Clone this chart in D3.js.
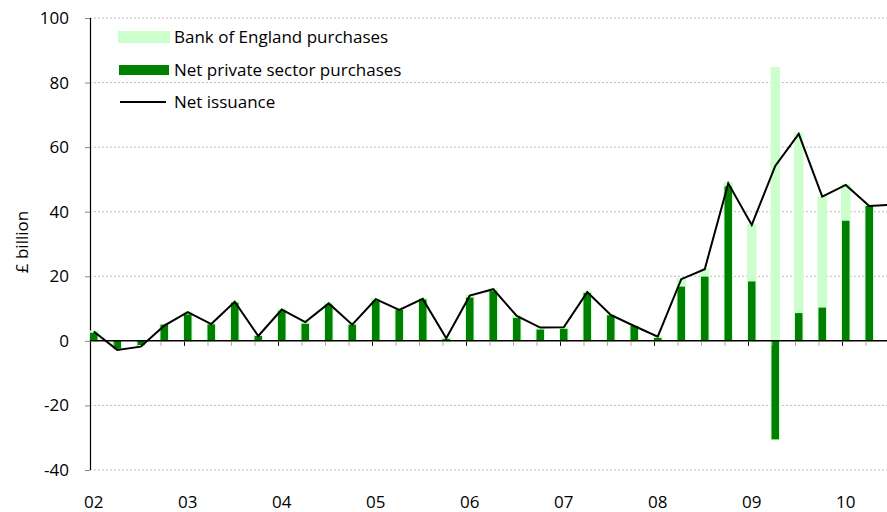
<!DOCTYPE html>
<html><head><meta charset="utf-8">
<script src="https://cdn.jsdelivr.net/npm/d3@7/dist/d3.min.js"></script>
<style>body{margin:0;background:#fff}svg{display:block;font-family:"Open Sans",sans-serif}</style>
</head><body><svg id="c" width="887" height="512"></svg>
<script>
const quarters = ["2002Q1","2002Q2","2002Q3","2002Q4","2003Q1","2003Q2","2003Q3","2003Q4","2004Q1","2004Q2","2004Q3","2004Q4","2005Q1","2005Q2","2005Q3","2005Q4","2006Q1","2006Q2","2006Q3","2006Q4","2007Q1","2007Q2","2007Q3","2007Q4","2008Q1","2008Q2","2008Q3","2008Q4","2009Q1","2009Q2","2009Q3","2009Q4","2010Q1","2010Q2","2010Q3"];
const privatePurchases = [2.5,-2.4,-1.3,5,8.2,5.1,11.8,1.5,9.2,5.3,11.2,5,12.4,9.6,12.8,0.6,13.4,15.4,7.1,3.5,3.7,14.8,7.9,4.6,0.9,16.8,19.9,47.8,18.4,-30.5,8.6,10.3,37.2,41.8,null];
const boePurchases = [0.4,0,0,0,0.6,0.1,0.3,0,0.5,0.5,0.4,0,0.5,0,0.2,0.2,0.6,0.6,0.6,0.6,0.5,0.3,0.1,0,0.4,2.3,2.3,1.1,17.5,84.5,55.6,34.4,11.1,0,null];
const netIssuance = [2.9,-2.8,-1.8,4.7,8.9,5.2,12.1,1.5,9.7,5.8,11.6,5,12.9,9.6,13,0.8,14,16,7.7,4.1,4.2,15.1,8,4.6,1.3,19.1,22.2,48.8,35.9,54.2,64.1,44.7,48.3,41.8,42.2];
const yTicks = [-40,-20,0,20,40,60,80,100];
const yearLabels = ["02","03","04","05","06","07","08","09","10"];
const seriesNames = ["Bank of England purchases","Net private sector purchases","Net issuance"];

const svg = d3.select("#c");
const mLeft = 90, mRight = 887, mTop = 18, mBottom = 470;
const y = d3.scaleLinear().domain([-40,100]).range([mBottom, mTop]);
const step = 23.5, barW = 7.5;
const x = d3.scaleLinear().domain([0, 1]).range([mLeft, mLeft + step]);
const light = "#ccffcc", dark = "#008000";
const fs = 17;

// gridlines
svg.append("g").selectAll("line").data(yTicks.filter(d => d !== 0)).join("line")
  .attr("x1", mLeft).attr("x2", mRight).attr("y1", d => y(d)).attr("y2", d => y(d))
  .attr("stroke", "#bcbcbc").attr("stroke-width", 1).attr("stroke-dasharray", "2,2");

// y axis
const yAxis = d3.axisLeft(y).tickValues(yTicks).tickSize(5).tickPadding(16).tickFormat(d => String(d));
const ga = svg.append("g").attr("transform", `translate(${mLeft},0)`).call(yAxis);
ga.select(".domain").remove();
ga.selectAll(".tick line").attr("stroke", "#888");
ga.selectAll(".tick text").attr("font-size", fs).attr("fill", "#000").attr("font-family", "Open Sans");
svg.append("line").attr("x1", mLeft + 0.5).attr("x2", mLeft + 0.5).attr("y1", mTop).attr("y2", mBottom).attr("stroke", "#000").attr("stroke-width", 1.2);

const idx = d3.range(34);
svg.append("clipPath").attr("id", "pc").append("rect").attr("x", mLeft).attr("y", 0).attr("width", mRight - mLeft).attr("height", 512);
const plot = svg.append("g").attr("clip-path", "url(#pc)");

const topVal = i => { const p = privatePurchases[i], b = boePurchases[i]; return p >= 0 ? p + b : Math.max(b, 0); };
plot.append("g").selectAll("rect").data(idx).join("rect")
  .attr("x", i => x(i))
  .attr("width", barW)
  .attr("y", i => y(topVal(i)))
  .attr("height", i => y(Math.min(privatePurchases[i], 0)) - y(topVal(i)))
  .attr("fill", light).attr("stroke", light).attr("stroke-width", 2);

plot.append("g").selectAll("rect").data(idx).join("rect")
  .attr("x", i => x(i))
  .attr("width", barW)
  .attr("y", i => y(Math.max(0, privatePurchases[i])))
  .attr("height", i => Math.abs(y(privatePurchases[i]) - y(0)))
  .attr("fill", dark);

// x axis baseline & ticks
svg.append("line").attr("x1", mLeft).attr("x2", mRight).attr("y1", y(0)).attr("y2", y(0)).attr("stroke", "#000").attr("stroke-width", 1.5);
svg.append("g").selectAll("line").data(d3.range(35)).join("line")
  .attr("x1", i => x(i) + 0.5).attr("x2", i => x(i) + 0.5)
  .attr("y1", y(0) + 1).attr("y2", y(0) + 5)
  .attr("stroke", i => i % 4 === 0 ? "#000" : "#aaa").attr("stroke-width", 1);

// year labels
svg.append("g").selectAll("text").data(yearLabels).join("text")
  .attr("x", (d, k) => x(k * 4) + barW / 2).attr("y", 508)
  .attr("text-anchor", "middle").attr("font-size", fs).attr("fill", "#000").text(d => d);

// line
const line = d3.line().x((d, i) => x(i) + barW / 2).y(d => y(d));
plot.append("path").datum(netIssuance).attr("d", line)
  .attr("fill", "none").attr("stroke", "#000").attr("stroke-width", 2).attr("stroke-linejoin", "miter");

// y label
svg.append("text").attr("transform", "translate(28,242) rotate(-90)").attr("text-anchor", "middle")
  .attr("font-size", fs).attr("fill", "#000").text("£ billion");

// legend
const lg = svg.append("g");
lg.append("rect").attr("x", 118).attr("y", 31).attr("width", 52).attr("height", 12).attr("fill", light);
lg.append("rect").attr("x", 119).attr("y", 65).attr("width", 50).attr("height", 10).attr("fill", dark);
lg.append("line").attr("x1", 120).attr("x2", 166).attr("y1", 102).attr("y2", 102).attr("stroke", "#000").attr("stroke-width", 2);
lg.selectAll("text").data(seriesNames).join("text")
  .attr("x", 174).attr("y", (d, i) => [43, 76, 108][i])
  .attr("font-size", fs).attr("fill", "#000").text(d => d);
</script></body></html>
